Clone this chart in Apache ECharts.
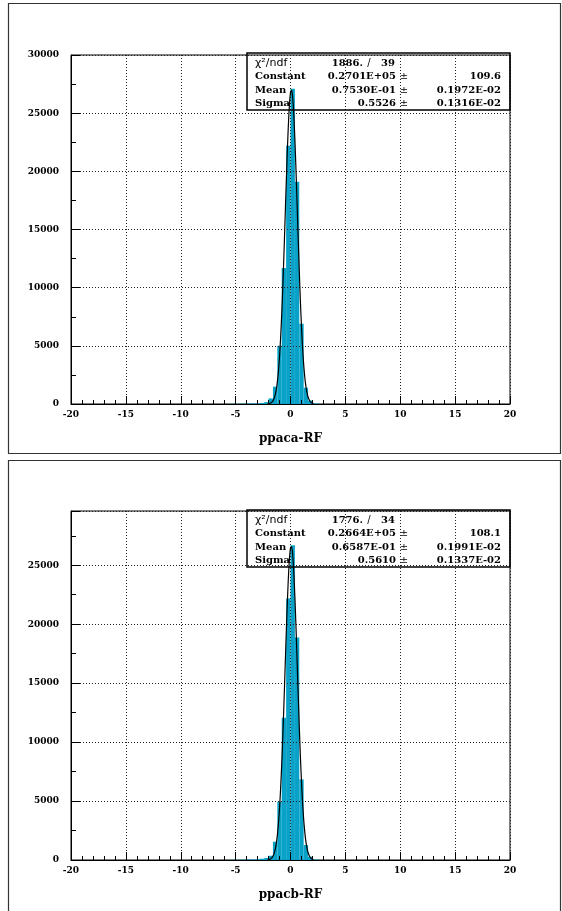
<!DOCTYPE html>
<html>
<head>
<meta charset="utf-8">
<script src="https://cdn.jsdelivr.net/npm/echarts@6/dist/echarts.min.js"></script>
<style>
  html, body { margin: 0; padding: 0; background: #fff; }
  #chart { width: 562px; height: 911px; }
</style>
</head>
<body>
<div id="chart"></div>
<script>
// histogram bin edges (shared by both panels)
const binEdges = [-5.6, -5.2, -4.8, -4.4, -4.0, -3.6, -3.2, -2.8, -2.4, -2.0, -1.6, -1.2,
  -0.8, -0.4, 0.0, 0.4, 0.8, 1.2, 1.6, 2.0, 2.4, 2.8];

// counts per bin
const countsA = [15, 20, 25, 30, 40, 50, 60, 90, 160, 480, 1490, 5000, 11700, 22200, 27100, 19100, 6900, 1400, 300, 60, 20];
const countsB = [15, 20, 25, 30, 40, 50, 70, 110, 170, 360, 1550, 4940, 12060, 22180, 26700, 18870, 6840, 1270, 280, 60, 20];

// gaussian fit curve, sampled
const fitX = [-2.1, -2.0, -1.9, -1.8, -1.7, -1.6, -1.5, -1.4, -1.3, -1.2, -1.1, -1.0, -0.9, -0.8, -0.7, -0.6,
  -0.5, -0.4, -0.3, -0.2, -0.1, 0.0, 0.1, 0.2, 0.3, 0.4, 0.5, 0.6, 0.7, 0.8, 0.9, 1.0, 1.1, 1.2, 1.3,
  1.4, 1.5, 1.6, 1.7, 1.8, 1.9, 2.0, 2.1];
const fitA = [12, 23, 45, 85, 155, 272, 464, 765, 1220, 1884, 2813, 4068, 5689, 7703, 10094, 12800,
  15709, 18659, 21446, 23858, 25684, 26760, 26983, 26331, 24868, 22729, 20104, 17208, 14256, 11431,
  8868, 6661, 4840, 3403, 2317, 1526, 973, 600, 358, 207, 116, 63, 33];
const fitB = [15, 30, 57, 105, 188, 324, 542, 877, 1375, 2089, 3074, 4383, 6053, 8096, 10491, 13171,
  16019, 18872, 21536, 23811, 25500, 26457, 26591, 25889, 24418, 22311, 19748, 16932, 14063, 11317,
  8821, 6660, 4872, 3452, 2369, 1576, 1015, 633, 383, 224, 127, 70, 37];

// stats box rows
const statLabels = ["Constant", "Mean", "Sigma"];
const chi2A = ["1886.", "39"];
const valuesA = ["0.2701E+05", "0.7530E-01", "0.5526"];
const errorsA = ["109.6", "0.1972E-02", "0.1316E-02"];
const chi2B = ["1776.", "34"];
const valuesB = ["0.2664E+05", "0.6587E-01", "0.5610"];
const errorsB = ["108.1", "0.1991E-02", "0.1337E-02"];

const xTitles = ["ppaca-RF", "ppacb-RF"];
const yMax = [30000, 29600];

const barColor = "#08a2c8";
const serif = "DejaVu Serif";

const chart = echarts.init(document.getElementById("chart"));

const gridTops = [55, 511];

function xAxisFor(i) {
  return {
    gridIndex: i,
    type: "value",
    min: -20,
    max: 20,
    interval: 5,
    z: 3,
    name: xTitles[i],
    nameLocation: "middle",
    nameGap: 29,
    nameTextStyle: { fontFamily: serif, fontWeight: "bold", fontSize: 12, color: "#000" },
    axisLine: { show: true, onZero: false, lineStyle: { color: "#000", width: 1 } },
    axisTick: { show: true, inside: true, length: 8, lineStyle: { color: "#000" } },
    minorTick: { show: true, splitNumber: 5, length: 4, lineStyle: { color: "#000" } },
    axisLabel: { fontFamily: serif, fontWeight: "bold", fontSize: 9, color: "#000", margin: 6 },
    splitLine: { show: true, lineStyle: { color: "#222", type: [1, 2], width: 1 } },
  };
}

function yAxisFor(i) {
  return {
    gridIndex: i,
    type: "value",
    min: 0,
    max: yMax[i],
    interval: 5000,
    z: 3,
    axisLine: { show: true, onZero: false, lineStyle: { color: "#000", width: 1 } },
    axisTick: { show: true, inside: true, length: 9, lineStyle: { color: "#000" } },
    minorTick: { show: true, splitNumber: 2, length: 5, lineStyle: { color: "#000" } },
    axisLabel: {
      fontFamily: serif, fontWeight: "bold", fontSize: 9, color: "#000", margin: 12,
      formatter: (v) => (v % 5000 === 0 ? String(v) : ""),
    },
    splitLine: { show: true, lineStyle: { color: "#222", type: [1, 2], width: 1 } },
  };
}

function histSeries(i, counts) {
  return {
    type: "custom",
    xAxisIndex: i,
    yAxisIndex: i,
    z: 2,
    data: counts.map((c, k) => [binEdges[k], binEdges[k + 1], c]),
    encode: { x: [0, 1], y: 2 },
    renderItem: (params, api) => {
      const p0 = api.coord([api.value(0), api.value(2)]);
      const p1 = api.coord([api.value(1), 0]);
      return {
        type: "rect",
        shape: { x: p0[0], y: p0[1], width: p1[0] - p0[0], height: p1[1] - p0[1] },
        style: { fill: barColor },
      };
    },
  };
}

function fitSeries(i, ys) {
  return {
    type: "line",
    xAxisIndex: i,
    yAxisIndex: i,
    z: 4,
    symbol: "none",
    smooth: 0.2,
    data: fitX.map((x, k) => [x, ys[k]]),
    lineStyle: { color: "#000", width: 1.2 },
  };
}

function statsBox(top, chi2, values, errors) {
  const rowY = [top + 10, top + 23.5, top + 37, top + 50.5];
  const els = [
    {
      type: "rect",
      shape: { x: 247, y: top, width: 263, height: 57 },
      style: { fill: "none", stroke: "#000", lineWidth: 1.5 },
      z: 10,
    },
    {
      type: "text", x: 255, y: rowY[0], z: 10,
      style: { text: "χ²/ndf", font: "11px 'DejaVu Sans'", fill: "#000", textVerticalAlign: "middle" },
    },
    {
      type: "text", x: 363, y: rowY[0], z: 10,
      style: { text: chi2[0], font: "bold 10px 'DejaVu Serif'", fill: "#000", textAlign: "right", textVerticalAlign: "middle" },
    },
    {
      type: "text", x: 369, y: rowY[0], z: 10,
      style: { text: "/", font: "10px 'DejaVu Sans'", fill: "#000", textAlign: "center", textVerticalAlign: "middle" },
    },
    {
      type: "text", x: 395, y: rowY[0], z: 10,
      style: { text: chi2[1], font: "bold 10px 'DejaVu Serif'", fill: "#000", textAlign: "right", textVerticalAlign: "middle" },
    },
  ];
  statLabels.forEach((lab, k) => {
    const y = rowY[k + 1];
    els.push(
      { type: "text", x: 255, y, z: 10,
        style: { text: lab, font: "bold 10px 'DejaVu Serif'", fill: "#000", textVerticalAlign: "middle" } },
      { type: "text", x: 396, y, z: 10,
        style: { text: values[k], font: "bold 10px 'DejaVu Serif'", fill: "#000", textAlign: "right", textVerticalAlign: "middle" } },
      { type: "text", x: 404, y, z: 10,
        style: { text: "±", font: "10px 'DejaVu Serif'", fill: "#000", textAlign: "center", textVerticalAlign: "middle" } },
      { type: "text", x: 501, y, z: 10,
        style: { text: errors[k], font: "bold 10px 'DejaVu Serif'", fill: "#000", textAlign: "right", textVerticalAlign: "middle" } }
    );
  });
  return els;
}

const option = {
  animation: false,
  backgroundColor: "#fff",
  grid: gridTops.map((t) => ({
    left: 71, top: t, width: 439, height: 349,
    show: true, borderColor: "#000", borderWidth: 1, backgroundColor: "transparent",
  })),
  xAxis: [xAxisFor(0), xAxisFor(1)],
  yAxis: [yAxisFor(0), yAxisFor(1)],
  series: [histSeries(0, countsA), fitSeries(0, fitA), histSeries(1, countsB), fitSeries(1, fitB)],
  graphic: [
    { type: "rect", shape: { x: 8.5, y: 3.5, width: 552, height: 450 },
      style: { fill: "none", stroke: "#333", lineWidth: 1.2 }, z: 10 },
    { type: "rect", shape: { x: 8.5, y: 460.5, width: 552, height: 460 },
      style: { fill: "none", stroke: "#333", lineWidth: 1.2 }, z: 10 },
    ...statsBox(53, chi2A, valuesA, errorsA),
    ...statsBox(510, chi2B, valuesB, errorsB),
  ],
};

chart.setOption(option);
</script>
</body>
</html>
